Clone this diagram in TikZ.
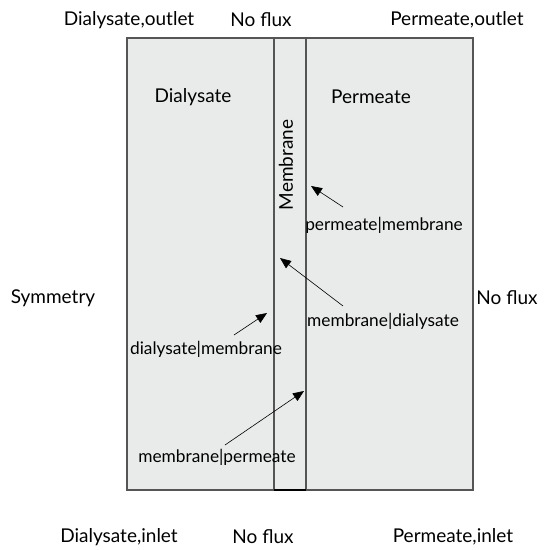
\documentclass[tikz,border=0pt]{standalone}
\usepackage{fontspec}
\setmainfont{Lato}
\usepackage{tikz}
\usetikzlibrary{arrows.meta, positioning}

\definecolor{domgray}{HTML}{E9EAEA}
\definecolor{edgegray}{HTML}{555555}

\tikzset{
  lbl/.style={font=\fontsize{19}{22}\selectfont, inner sep=0pt},
  ifc/.style={font=\fontsize{17.3}{20}\selectfont, inner sep=0pt},
  ptr/.style={-{Triangle[length=11pt,width=9pt]}, line width=0.6pt}
}

\begin{document}
\begin{tikzpicture}[x=1pt,y=-1pt]
    \useasboundingbox (0,0) rectangle (551,549);
    % Domains: dialysate, membrane, permeate
    \draw[fill=domgray, draw=edgegray, line width=1.3pt] (127,38) rectangle (473,490);
    \draw[draw=edgegray, line width=1.3pt] (274,38) -- (274,490);
    \draw[draw=edgegray, line width=1.3pt] (306,38) -- (306,490);
    \draw[black, line width=2pt] (274,490) -- (306,490);
    % Boundary labels
    \node[lbl] (dout) at (129,20) {Dialysate,outlet};
    \node[lbl] (ntop) at (261,20) {No flux};
    \node[lbl] (pout) at (457,20) {Permeate,outlet};
    \node[lbl] (sym) at (53,298) {Symmetry};
    \node[lbl] (nright) at (507,298) {No flux};
    \node[lbl] (din) at (119,537) {Dialysate,inlet};
    \node[lbl] (nbot) at (263,537) {No flux};
    \node[lbl] (pin) at (453,537) {Permeate,inlet};
    % Domain labels
    \node[lbl] (dial) at (193,97) {Dialysate};
    \node[lbl] (perm) at (371,97) {Permeate};
    \node[lbl, rotate=90] (memb) at (286,165) {Membrane};
    % Interface labels
    \node[ifc] (pm) at (384,225) {permeate|membrane};
    \node[ifc] (md) at (383,321) {membrane|dialysate};
    \node[ifc] (dm) at (206,349) {dialysate|membrane};
    \node[ifc] (mp) at (217,457) {membrane|permeate};
    % Pointers
    \coordinate (pmtail) at (343,207);
    \coordinate (pmhead) at (311,186);
    \coordinate (mdtail) at (343,306);
    \coordinate (mdhead) at (280,258);
    \coordinate (dmtail) at (234,335);
    \coordinate (dmhead) at (267,313);
    \coordinate (mptail) at (225,445);
    \coordinate (mphead) at (304,391);
    \draw[ptr] (pmtail) -- (pmhead);
    \draw[ptr] (mdtail) -- (mdhead);
    \draw[ptr] (dmtail) -- (dmhead);
    \draw[ptr] (mptail) -- (mphead);
\end{tikzpicture}
\end{document}
